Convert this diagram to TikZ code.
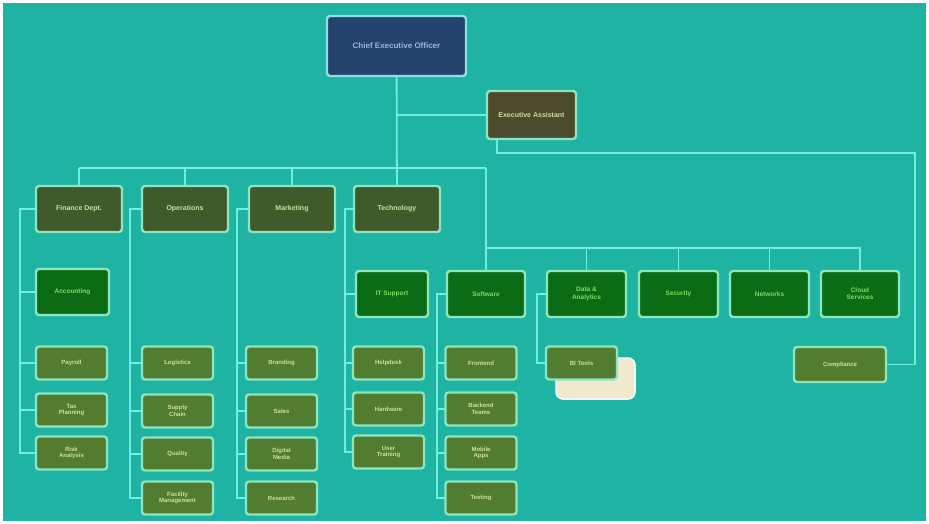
\documentclass[tikz,border=0pt]{standalone}
\usepackage{fontspec}
\setmainfont{Liberation Sans}
\definecolor{bgteal}{HTML}{1FB3A4}
\definecolor{linkc}{HTML}{72EEDF}
\definecolor{navy}{HTML}{24446E}
\definecolor{rootedge}{HTML}{8FDDE6}
\definecolor{roottext}{HTML}{A0B0E0}
\definecolor{brownfill}{HTML}{4B4A2A}
\definecolor{olivefill}{HTML}{3F5B2B}
\definecolor{mint}{HTML}{8CE6BE}
\definecolor{greenfill}{HTML}{0C6C16}
\definecolor{greentext}{HTML}{7CDC62}
\definecolor{lowfill}{HTML}{527D30}
\definecolor{lowtext}{HTML}{CFE09A}
\definecolor{cream}{HTML}{F2E8CC}
\begin{document}
\begin{tikzpicture}[x=1pt,y=-1pt,
  every node/.style={inner sep=1pt, outer sep=0pt, align=center},
  base/.style={draw=mint, line width=2.4pt, rounded corners=3pt, font=\fontsize{6}{6.8}\selectfont\bfseries},
  rootbox/.style={base, fill=navy, draw=rootedge, text=roottext, minimum width=139pt, minimum height=60pt, font=\fontsize{8}{9}\selectfont\bfseries},
  brownbox/.style={base, fill=brownfill, text=lowtext, minimum width=89pt, minimum height=48pt, font=\fontsize{7}{8}\selectfont\bfseries},
  olivebox/.style={base, fill=olivefill, text=lowtext, minimum width=86pt, minimum height=46pt, font=\fontsize{7}{8}\selectfont\bfseries},
  greenbox/.style={base, fill=greenfill, text=greentext, minimum height=46pt, font=\fontsize{6.5}{7.3}\selectfont\bfseries},
  lowbox/.style={base, fill=lowfill, text=lowtext, minimum width=71pt, minimum height=33pt},
  link/.style={draw=linkc, line width=1.8pt}]
\useasboundingbox (0,0) rectangle (929,524);
\fill[white] (0,0) rectangle (929,524);
\fill[bgteal] (3,3) rectangle (926,521);

% top
\node[rootbox] (root) at (396.5,46) {Chief Executive Officer};
\node[brownbox] (sec) at (531.5,115) {Executive Assistant};

% row 1
\node[olivebox] (A) at (79,209) {Finance Dept.};
\node[olivebox] (B) at (185,209) {Operations};
\node[olivebox] (C) at (292,209) {Marketing};
\node[olivebox] (D) at (397,209) {Technology};

% row 2
\node[greenbox, minimum width=73pt] (ag) at (72.5,292) {Accounting};
\node[greenbox, minimum width=72pt] (e1) at (392,294) {IT Support};
\node[greenbox, minimum width=78pt] (e2) at (486,294) {Software};
\node[greenbox, minimum width=79pt] (e3) at (586.5,294) {Data \&\\Analytics};
\node[greenbox, minimum width=79pt] (e4) at (678.5,294) {Security};
\node[greenbox, minimum width=79pt] (e5) at (769.5,294) {Networks};
\node[greenbox, minimum width=78pt] (e6) at (860,294) {Cloud\\Services};

% row 3 columns
\node[lowbox] (a1) at (71.5,363) {Payroll};
\node[lowbox] (a2) at (71.5,410) {Tax\\Planning};
\node[lowbox] (a3) at (71.5,453) {Risk\\Analysis};

\node[lowbox] (b1) at (177.5,363) {Logistics};
\node[lowbox] (b2) at (177.5,411) {Supply\\Chain};
\node[lowbox] (b3) at (177.5,454) {Quality};
\node[lowbox] (b4) at (177.5,498) {Facility\\Management};

\node[lowbox] (c1) at (281.5,363) {Branding};
\node[lowbox] (c2) at (281.5,411) {Sales};
\node[lowbox] (c3) at (281.5,454) {Digital\\Media};
\node[lowbox] (c4) at (281.5,498) {Research};

\node[lowbox] (d1) at (388.5,363) {Helpdesk};
\node[lowbox] (d2) at (388.5,409) {Hardware};
\node[lowbox] (d3) at (388.5,452) {User\\Training};

\node[lowbox] (f1) at (481,363) {Frontend};
\node[lowbox] (f2) at (481,409) {Backend\\Teams};
\node[lowbox] (f3) at (481,453) {Mobile\\Apps};
\node[lowbox] (f4) at (481,498) {Testing};

\fill[cream, draw=white, line width=1.5pt, rounded corners=7pt] (556,358) rectangle (635,399);
\node[lowbox] (g1) at (581.5,363) {BI Tools};

\node[lowbox, minimum width=92pt, minimum height=35pt] (last) at (840,364.5) {Compliance};

% column guide coordinates
\coordinate (xa) at (20,0);
\coordinate (xb) at (130,0);
\coordinate (xc) at (237,0);
\coordinate (xd) at (345,0);
\coordinate (xe) at (437,0);
\coordinate (xf) at (537,0);
\coordinate (bus) at (0,168);
\coordinate (bus2) at (0,248);
\coordinate (xr) at (915,0);
\coordinate (topr) at (0,153);

% main tree
\draw[link] (root) -- (D);
\draw[link] (root |- sec.west) -- (sec.west);
\draw[link] (A.north |- bus) -- (e2.center |- bus);
\draw[link] (A.north |- bus) -- (A.north);
\draw[link] (B.north |- bus) -- (B.north);
\draw[link] (C.north |- bus) -- (C.north);
\draw[link] (e2.center |- bus) -- (e2.north);
\draw[link] (e2.center |- bus2) -- (e6.center |- bus2) -- (e6.north);
\draw[link] (e3.center |- bus2) -- (e3.north);
\draw[link] (e4.center |- bus2) -- (e4.north);
\draw[link] (e5.center |- bus2) -- (e5.north);

% right route
\draw[link] ([xshift=10pt]sec.south west) -- ([xshift=10pt]sec.south west |- topr) -- (xr |- topr) -- (xr |- last.east) -- (last.east);

% column A
\draw[link] (A.west) -- (xa |- A.west) -- (xa |- a3.west) -- (a3.west);
\draw[link] (xa |- ag.west) -- (ag.west);
\draw[link] (xa |- a1.west) -- (a1.west);
\draw[link] (xa |- a2.west) -- (a2.west);
% column B
\draw[link] (B.west) -- (xb |- B.west) -- (xb |- b4.west) -- (b4.west);
\draw[link] (xb |- b1.west) -- (b1.west);
\draw[link] (xb |- b2.west) -- (b2.west);
\draw[link] (xb |- b3.west) -- (b3.west);
% column C
\draw[link] (C.west) -- (xc |- C.west) -- (xc |- c4.west) -- (c4.west);
\draw[link] (xc |- c1.west) -- (c1.west);
\draw[link] (xc |- c2.west) -- (c2.west);
\draw[link] (xc |- c3.west) -- (c3.west);
% column D
\draw[link] (D.west) -- (xd |- D.west) -- (xd |- d3.west) -- (d3.west);
\draw[link] (xd |- e1.west) -- (e1.west);
\draw[link] (xd |- d1.west) -- (d1.west);
\draw[link] (xd |- d2.west) -- (d2.west);
% column E
\draw[link] (e2.west) -- (xe |- e2.west) -- (xe |- f4.west) -- (f4.west);
\draw[link] (xe |- f1.west) -- (f1.west);
\draw[link] (xe |- f2.west) -- (f2.west);
\draw[link] (xe |- f3.west) -- (f3.west);
% column F
\draw[link] (e3.west) -- (xf |- e3.west) -- (xf |- g1.west) -- (g1.west);
\end{tikzpicture}
\end{document}
